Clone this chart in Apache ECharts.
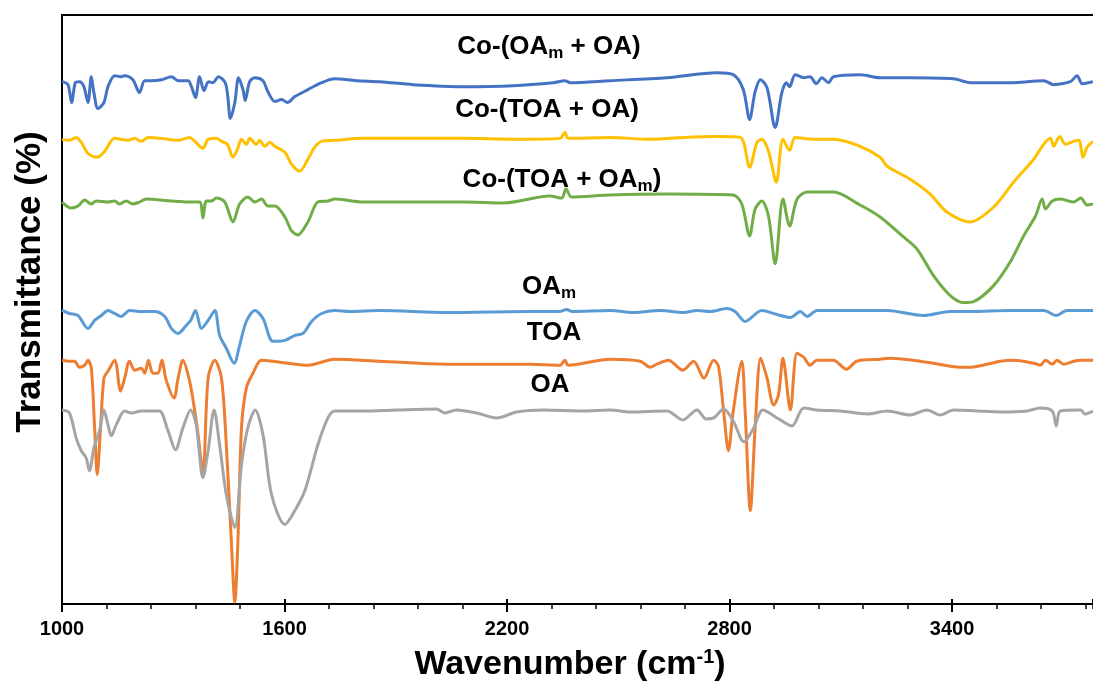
<!DOCTYPE html>
<html>
<head>
<meta charset="utf-8">
<script src="https://cdn.jsdelivr.net/npm/echarts@6/dist/echarts.min.js"></script>
<style>
  html, body { margin: 0; padding: 0; background: #fff; }
  #chart { width: 1093px; height: 687px; }
</style>
</head>
<body>
<div id="chart"></div>
<script>
// FTIR spectra, wavenumber (cm-1) vs transmittance (arbitrary offset units)
const xTicks = [1000, 1600, 2200, 2800, 3400]

// Co-(OAm + OA)
const wnCoOamOa = [1000,1016,1026,1036,1047,1059,1070,1079,1086,1097,1113,1124,1142,1160,1169,1191,1209,1223,1241,1268,1295,1313,1340,1349,1360,1371,1383,1395,1407,1422,1440,1447,1454,1466,1476,1488,1494,1506,1520,1542,1555,1574,1592,1608,1628,1663,1700,1735,1794,1857,1947,2082,2217,2325,2356,2370,2478,2631,2766,2810,2837,2854,2869,2883,2901,2923,2941,2953,2962,2977,3000,3017,3034,3049,3067,3080,3152,3206,3287,3404,3449,3557,3647,3674,3719,3737,3751,3780]
const tCoOamOa = [525,522,504,524,525,520,504,530,514,498,504,520,531,530,531,527,514,526,526,527,530,526,526,520,509,530,516,525,524,530,524,510,488,504,529,517,506,525,529,526,515,505,507,504,510,517,524,528,526,525,522,520,521,524,526,524,526,529,534,532,517,487,515,527,519,479,514,524,520,532,529,530,523,529,524,530,532,529,529,528,524,524,526,522,525,531,523,525]

// Co-(TOA + OA)
const wnCoToaOa = [1000,1020,1038,1052,1070,1095,1115,1142,1178,1196,1214,1232,1268,1313,1344,1358,1380,1394,1416,1430,1446,1461,1473,1484,1497,1506,1524,1533,1547,1560,1574,1601,1619,1641,1663,1681,1700,1735,1812,1947,2082,2217,2343,2356,2365,2478,2586,2676,2766,2829,2854,2874,2887,2905,2926,2944,2962,2977,3026,3080,3152,3206,3225,3287,3341,3386,3449,3512,3566,3620,3647,3665,3674,3690,3706,3728,3742,3753,3764,3780]
const tCoToaOa = [467,466,469,464,453,449,455,468,466,468,465,469,468,466,469,465,458,467,468,465,462,449,457,467,462,468,462,466,460,464,460,454,442,435,447,459,465,466,468,468,468,467,468,474,468,469,467,469,470,469,439,464,467,455,424,467,456,469,467,467,460,449,440,427,412,394,384,399,424,447,462,468,460,470,462,465,466,449,459,465]

// Co-(TOA + OAm)
const wnCoToaOam = [1000,1025,1043,1061,1079,1092,1124,1142,1155,1173,1191,1209,1227,1295,1340,1371,1380,1389,1403,1416,1439,1461,1479,1501,1520,1538,1555,1574,1601,1619,1636,1663,1690,1717,1735,1812,1947,2082,2190,2316,2347,2359,2374,2478,2631,2810,2833,2854,2869,2887,2905,2923,2944,2962,2982,3009,3080,3152,3206,3269,3305,3350,3395,3431,3458,3512,3557,3593,3625,3643,3652,3670,3692,3728,3747,3764,3780]
const tCoToaOam = [404,398,400,406,402,405,404,405,402,405,402,404,407,405,404,404,388,405,405,408,404,384,402,409,404,407,400,400,389,375,371,384,404,405,407,404,404,404,403,410,408,417,409,411,412,411,402,370,397,405,390,342,407,380,407,414,414,401,389,369,357,330,310,303,304,320,344,370,390,407,397,405,407,404,408,401,402]

// OAm
const wnOam = [1000,1020,1043,1070,1088,1106,1124,1142,1160,1182,1214,1250,1277,1295,1313,1335,1347,1360,1376,1394,1412,1425,1443,1464,1479,1497,1520,1542,1569,1601,1628,1650,1673,1700,1735,1776,1857,2037,2262,2343,2361,2375,2478,2541,2613,2676,2712,2748,2793,2815,2842,2887,2928,2964,2991,3009,3036,3152,3225,3323,3395,3449,3557,3647,3681,3710,3780]
const tOam = [295,292,290,277,285,290,295,292,289,295,294,294,289,277,272,280,285,295,277,285,295,270,257,242,260,284,295,287,264,265,270,272,284,292,295,294,295,293,294,294,296,294,295,293,295,293,295,294,297,294,284,295,291,288,294,289,295,295,295,290,294,294,295,295,290,295,295]

// TOA
const wnToa = [1000,1020,1034,1047,1061,1070,1079,1088,1095,1104,1113,1124,1142,1158,1169,1182,1196,1214,1223,1233,1245,1259,1269,1281,1302,1313,1326,1344,1358,1367,1380,1394,1412,1430,1443,1457,1466,1474,1484,1497,1515,1538,1609,1663,1735,1857,2037,2262,2343,2356,2365,2478,2559,2586,2604,2635,2674,2703,2731,2757,2770,2784,2797,2810,2833,2842,2856,2869,2884,2901,2919,2932,2944,2964,2982,3000,3017,3036,3080,3115,3143,3206,3233,3332,3422,3449,3530,3566,3620,3638,3652,3670,3683,3701,3728,3747,3780]
const tToa = [245,244,244,238,240,245,237,177,130,177,227,234,245,214,227,244,235,237,232,245,232,232,245,225,207,227,245,224,194,170,131,227,245,227,160,60,2,60,177,217,232,245,242,240,246,244,241,241,240,245,240,246,244,238,241,245,235,244,227,245,239,194,154,194,244,194,94,177,247,227,200,210,247,195,252,248,240,245,245,236,244,246,247,243,238,238,244,245,242,240,245,241,245,241,244,245,245]

// OA
const wnOa = [1000,1020,1038,1052,1065,1074,1086,1101,1113,1124,1133,1146,1169,1187,1214,1241,1263,1286,1306,1326,1347,1362,1380,1394,1410,1425,1443,1466,1484,1501,1521,1542,1565,1601,1628,1655,1690,1717,1735,1812,1902,2010,2032,2064,2118,2172,2226,2298,2406,2478,2532,2631,2674,2712,2737,2757,2784,2810,2839,2865,2890,2928,2968,3000,3036,3098,3171,3225,3287,3332,3368,3404,3467,3530,3602,3638,3670,3681,3692,3747,3758,3780]
const tOa = [195,192,167,154,147,134,157,174,195,180,169,180,194,192,194,194,194,174,155,177,195,180,127,154,195,160,110,77,140,177,195,170,110,80,94,114,160,187,194,194,195,196,192,195,192,187,193,195,194,195,193,194,185,195,186,187,196,184,163,177,195,187,179,197,195,194,191,194,190,195,190,195,194,193,194,197,194,179,194,195,191,194]

const FONT = 'Arial, "Liberation Sans", sans-serif'
const X_MIN = 1000
const X_MAX = 3780
const STEP = xTicks[1] - xTicks[0]

const zip = (xs, ys) => xs.map((x, i) => [x, ys[i]])

// series order follows the office palette order of the source
const seriesList = [
  { name: 'Co-(OAm + OA)', xs: wnCoOamOa, ys: tCoOamOa, color: '#4472C4' },
  { name: 'TOA', xs: wnToa, ys: tToa, color: '#ED7D31' },
  { name: 'OA', xs: wnOa, ys: tOa, color: '#A5A5A5' },
  { name: 'Co-(TOA + OA)', xs: wnCoToaOa, ys: tCoToaOa, color: '#FFC000' },
  { name: 'OAm', xs: wnOam, ys: tOam, color: '#5B9BD5' },
  { name: 'Co-(TOA + OAm)', xs: wnCoToaOam, ys: tCoToaOam, color: '#70AD47' },
]

const richLabel = {
  a: { fontSize: 26, fontWeight: 'bold', fontFamily: FONT, color: '#000', lineHeight: 30 },
  s: { fontSize: 17, fontWeight: 'bold', fontFamily: FONT, color: '#000', lineHeight: 12, verticalAlign: 'bottom' },
}

const curveLabels = [
  { text: '{a|Co-(OA}{s|m}{a| + OA)}', x: 549, y: 47 },
  { text: '{a|Co-(TOA + OA)}', x: 547, y: 110 },
  { text: '{a|Co-(TOA + OA}{s|m}{a|)}', x: 562, y: 180 },
  { text: '{a|OA}{s|m}', x: 549, y: 287 },
  { text: '{a|TOA}', x: 554, y: 333 },
  { text: '{a|OA}', x: 550, y: 385 },
]

const hiddenAxisParts = {
  axisLabel: { show: false },
  splitLine: { show: false },
}

const option = {
  animation: false,
  backgroundColor: '#fff',
  grid: { left: 62, right: 0, top: 15, bottom: 80, containLabel: false },
  xAxis: [
    {
      type: 'value',
      min: X_MIN,
      max: X_MAX,
      interval: STEP,
      position: 'bottom',
      axisLine: { show: true, onZero: false, lineStyle: { color: '#000', width: 2 } },
      axisTick: { show: true, inside: false, length: 8, lineStyle: { color: '#000', width: 2 } },
      axisLabel: {
        show: true,
        margin: 15,
        fontSize: 20,
        fontWeight: 'bold',
        fontFamily: FONT,
        color: '#000',
        showMaxLabel: false,
        formatter: (v) => String(v),
      },
      splitLine: { show: false },
      name: '{a|Wavenumber (cm}{p|-1}{a|)}',
      nameLocation: 'middle',
      nameGap: 43,
      nameTextStyle: {
        padding: [0, 15, 0, 0],
        rich: {
          a: { fontSize: 34, fontWeight: 'bold', fontFamily: FONT, color: '#000', lineHeight: 36 },
          p: { fontSize: 20, fontWeight: 'bold', fontFamily: FONT, color: '#000', lineHeight: 12, verticalAlign: 'top' },
        },
      },
    },
    {
      // top frame line
      type: 'value',
      min: X_MIN,
      max: X_MAX,
      position: 'top',
      axisLine: { show: true, onZero: false, lineStyle: { color: '#000', width: 2 } },
      axisTick: { show: false },
      ...hiddenAxisParts,
    },
    {
      // major ticks poking inside the plot
      type: 'value',
      min: X_MIN,
      max: X_MAX,
      interval: STEP,
      position: 'bottom',
      axisLine: { show: false, onZero: false },
      axisTick: { show: true, inside: true, length: 5, lineStyle: { color: '#000', width: 2 } },
      ...hiddenAxisParts,
    },
    {
      // minor ticks
      type: 'value',
      min: X_MIN,
      max: X_MAX,
      interval: STEP / 5,
      position: 'bottom',
      axisLine: { show: false, onZero: false },
      axisTick: { show: true, inside: false, length: 5, lineStyle: { color: '#000', width: 1.5 } },
      ...hiddenAxisParts,
    },
  ],
  yAxis: {
    type: 'value',
    min: 0,
    max: 592,
    axisLine: { show: true, onZero: false, lineStyle: { color: '#000', width: 2 } },
    axisTick: { show: false },
    axisLabel: { show: false },
    splitLine: { show: false },
  },
  series: seriesList.map((s) => ({
    name: s.name,
    type: 'line',
    xAxisIndex: 0,
    yAxisIndex: 0,
    data: zip(s.xs, s.ys),
    showSymbol: false,
    symbol: 'none',
    smooth: 0.3,
    silent: true,
    lineStyle: { color: s.color, width: 3 },
    itemStyle: { color: s.color },
  })),
  graphic: [
    ...curveLabels.map((l) => ({
      type: 'text',
      x: l.x,
      y: l.y,
      silent: true,
      style: {
        text: l.text,
        rich: richLabel,
        align: 'center',
        verticalAlign: 'middle',
      },
    })),
    {
      type: 'text',
      x: 30,
      y: 282,
      rotation: Math.PI / 2,
      silent: true,
      style: {
        text: 'Transmittance (%)',
        font: 'bold 35px ' + FONT,
        fill: '#000',
        align: 'center',
        verticalAlign: 'middle',
      },
    },
  ],
}

const c = echarts.init(document.getElementById('chart'), null, { renderer: 'canvas' })
c.setOption(option)
</script>
</body>
</html>
